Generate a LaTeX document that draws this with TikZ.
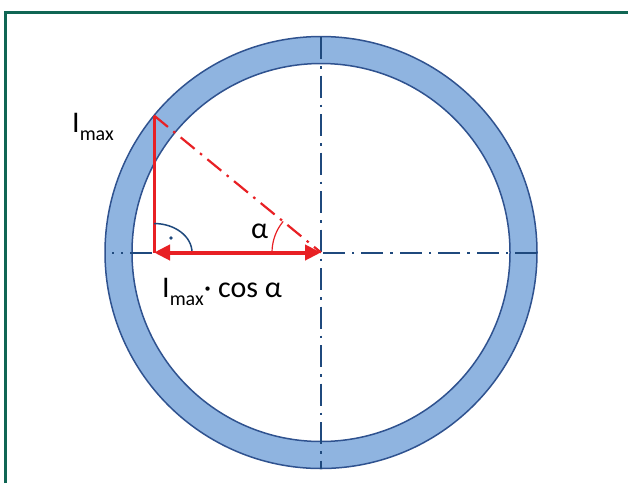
\documentclass[tikz,border=0pt]{standalone}
\usepackage{fontspec}
\setmainfont{Carlito}
\usetikzlibrary{arrows.meta}
\definecolor{framegreen}{RGB}{16,102,84}
\definecolor{ringfill}{RGB}{143,180,224}
\definecolor{ringedge}{RGB}{47,82,143}
\definecolor{axisblue}{RGB}{31,73,125}
\definecolor{dimred}{RGB}{232,32,36}
\newcommand{\sub}[1]{{\fontsize{20}{20}\selectfont\raisebox{-8pt}{#1}}}
\tikzset{
  axisline/.style={axisblue, line width=2pt, dash pattern=on 22pt off 7pt on 2.5pt off 7pt},
  redline/.style={dimred, line width=3pt},
  reddash/.style={dimred, line width=2.2pt, dash pattern=on 18pt off 7pt on 2.5pt off 7pt},
  lbl/.style={anchor=base west, inner sep=0pt, font=\fontsize{30}{30}\selectfont},
}
\begin{document}
\begin{tikzpicture}[x=1pt,y=-1pt]
\useasboundingbox (0,0) rectangle (628,483);
% frame (top and left edges)
\draw[framegreen, line width=3pt] (5,483) -- (5,12.5) -- (628,12.5);
% ring
\coordinate (O) at (321,252.5);
\fill[ringfill, even odd rule] (O) circle[radius=216] (O) circle[radius=189];
\draw[ringedge, line width=1.5pt] (O) circle[radius=216];
\draw[ringedge, line width=1.5pt] (O) circle[radius=189];
% axes
\coordinate (T) at (321,37);
\coordinate (Bt) at (321,469);
\coordinate (L) at (112,252.5);
\coordinate (R) at (537,252.5);
\draw[axisline] (T) -- (Bt);
\draw[axisline] (R) -- (L);
% triangle
\coordinate (A) at (154,115.5);
\coordinate (F) at (154,252.5);
\draw[reddash] (A) -- (O);
\draw[redline] (F) -- (A);
% right angle mark (y axis is flipped: angles are negated)
\draw[axisblue, line width=1.5pt] (154,223.5) arc[start angle=-90, end angle=0, x radius=38, y radius=29];
\fill[axisblue] (171,238) circle[radius=1.8];
% alpha arc
\draw[dimred, line width=1.2pt] (272,252.5) arc[start angle=180, end angle=219.4, radius=49];
% double arrow
\draw[dimred, line width=4pt, {Triangle[length=16pt,width=15pt]}-{Triangle[length=16pt,width=15pt]}] (F) -- (O);
% labels
\node[lbl] (lmax) at (72,132) {I\sub{max}};
\node[lbl] (lalpha) at (251,238) {α};
\node[lbl] (lcos) at (162,297) {I\sub{max}· cos α};
\end{tikzpicture}
\end{document}
